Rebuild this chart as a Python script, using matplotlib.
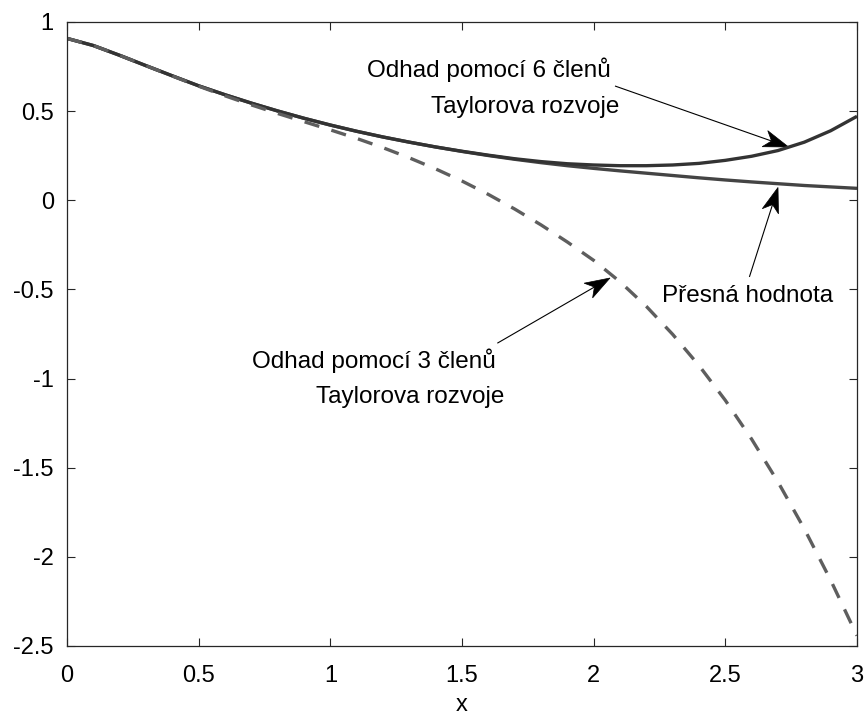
import numpy as np
import matplotlib
matplotlib.use("Agg")
import matplotlib.pyplot as plt
from matplotlib.patches import Polygon
from matplotlib.transforms import IdentityTransform

plt.rcParams["font.family"] = ["Liberation Sans", "DejaVu Sans"]
plt.rcParams["axes.unicode_minus"] = False

# values
x = [0.0, 0.1, 0.2, 0.3, 0.4, 0.5, 0.6, 0.7, 0.8, 0.9, 1.0,
     1.1, 1.2, 1.3, 1.4, 1.5, 1.6, 1.7, 1.8, 1.9, 2.0,
     2.1, 2.2, 2.3, 2.4, 2.5, 2.6, 2.7, 2.8, 2.9, 3.0]
exact = [0.908, 0.868, 0.813, 0.755, 0.698, 0.642, 0.592, 0.545, 0.501, 0.460, 0.422,
         0.387, 0.355, 0.326, 0.299, 0.274, 0.251, 0.230, 0.211, 0.194, 0.179,
         0.165, 0.152, 0.139, 0.126, 0.114, 0.103, 0.093, 0.083, 0.075, 0.067]
taylor6 = [0.908, 0.868, 0.813, 0.755, 0.698, 0.642, 0.592, 0.545, 0.501, 0.460, 0.422,
           0.387, 0.355, 0.326, 0.299, 0.275, 0.253, 0.233, 0.217, 0.205, 0.198,
           0.194, 0.194, 0.198, 0.207, 0.224, 0.247, 0.279, 0.326, 0.390, 0.471]
taylor3 = [0.908, 0.868, 0.813, 0.755, 0.697, 0.640, 0.586, 0.535, 0.487, 0.441, 0.395,
           0.347, 0.295, 0.238, 0.176, 0.108, 0.033, -0.049, -0.138, -0.234, -0.337,
           -0.457, -0.595, -0.752, -0.927, -1.122, -1.340, -1.580, -1.843, -2.131, -2.442]

xticks = [0, 0.5, 1, 1.5, 2, 2.5, 3]
xtick_labels = ["0", "0.5", "1", "1.5", "2", "2.5", "3"]
yticks = [-2.5, -2, -1.5, -1, -0.5, 0, 0.5, 1]
ytick_labels = ["-2.5", "-2", "-1.5", "-1", "-0.5", "0", "0.5", "1"]

FS = 17
FS_NOTE = 17.5

fig = plt.figure(figsize=(8.65, 7.2), dpi=100)
ax = fig.add_axes([67 / 865, 1 - 646 / 720, 790 / 865, 624 / 720])

ax.plot(x, exact, color="#444444", lw=2.4, solid_capstyle="butt")
ax.plot(x, taylor6, color="#333333", lw=2.4, solid_capstyle="butt")
ax.plot(x, taylor3, color="#5e5e5e", lw=2.4, linestyle=(0, (4.6, 3.8)))

ax.set_xlim(0, 3)
ax.set_ylim(-2.5, 1)
ax.set_xticks(xticks)
ax.set_xticklabels(xtick_labels)
ax.set_yticks(yticks)
ax.set_yticklabels(ytick_labels)
ax.tick_params(direction="in", length=5.8, width=0.8, top=True, right=True,
               labelsize=FS, colors="#262626", labelcolor="black")
ax.tick_params(axis="x", pad=14)
ax.tick_params(axis="y", pad=9.5)
for sp in ax.spines.values():
    sp.set_color("#262626")
    sp.set_linewidth(0.9)
ax.set_xlabel("x", fontsize=FS, labelpad=5)

# annotation texts (baseline positions in data units)
ax.text(1.141, 0.689, "Odhad pomocí 6 členů", fontsize=FS_NOTE, va="baseline")
ax.text(1.384, 0.492, "Taylorova rozvoje", fontsize=FS_NOTE, va="baseline")
ax.text(0.701, -0.942, "Odhad pomocí 3 členů", fontsize=FS_NOTE, va="baseline")
ax.text(0.947, -1.139, "Taylorova rozvoje", fontsize=FS_NOTE, va="baseline")
ax.text(2.259, -0.568, "Přesná hodnota", fontsize=FS_NOTE, va="baseline")


def arrow(tail, tip, head_len=25, head_w=17, notch=0.72):
    t0 = ax.transData.transform(tail)
    t1 = ax.transData.transform(tip)
    d = t1 - t0
    u = d / np.hypot(*d)
    n = np.array([-u[1], u[0]])
    back = t1 - head_len * u
    mid = t1 - notch * head_len * u
    ax.plot([t0[0], mid[0]], [t0[1], mid[1]], color="black", lw=0.8,
            transform=IdentityTransform(), clip_on=False)
    head = [t1, back + head_w / 2 * n, mid, back - head_w / 2 * n]
    ax.add_patch(Polygon(head, closed=True, facecolor="black", edgecolor="black",
                         lw=0.5, transform=IdentityTransform(), clip_on=False))


arrow((2.083, 0.64), (2.74, 0.299))
arrow((2.592, -0.427), (2.70, 0.072))
arrow((1.636, -0.80), (2.062, -0.436))

fig.savefig("out.png", dpi=100)
